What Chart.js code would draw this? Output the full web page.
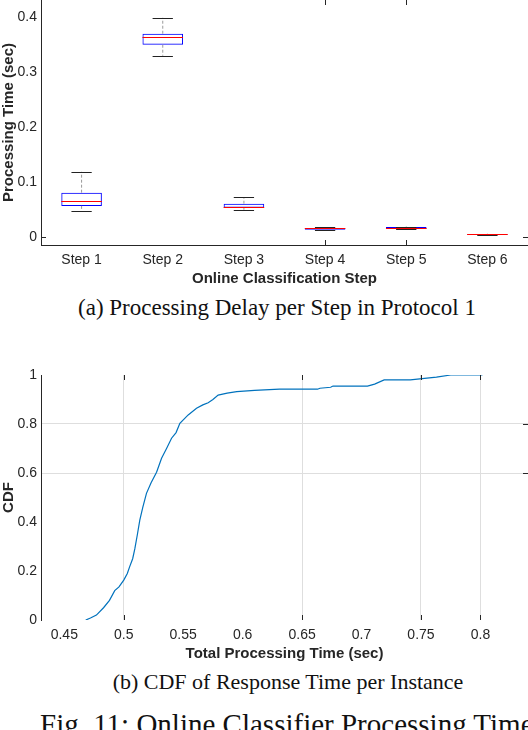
<!DOCTYPE html>
<html>
<head>
<meta charset="utf-8">
<script src="https://cdn.jsdelivr.net/npm/chart.js@4.4.1/dist/chart.umd.min.js"></script>
<style>
  html, body { margin: 0; padding: 0; background: #fff; }
  body { width: 528px; height: 730px; position: relative; overflow: hidden; }
  canvas { position: absolute; left: 0; }
  .cap { position: absolute; font-family: "Liberation Serif", "Times New Roman", serif; color: #111; white-space: nowrap; text-align: center; }
</style>
</head>
<body>
<canvas id="boxChart" width="528" height="306" style="top:-20px;width:528px;height:306px"></canvas>
<div class="cap" style="left:-23px;width:600px;top:296px;font-size:23px;line-height:23px">(a) Processing Delay per Step in Protocol 1</div>
<canvas id="cdfChart" width="528" height="306" style="top:355px;width:528px;height:306px"></canvas>
<div class="cap" style="left:-12px;width:600px;top:671px;font-size:22px;line-height:22px">(b) CDF of Response Time per Instance</div>
<div class="cap" style="left:40px;top:710px;font-size:29px;line-height:29px;text-align:left">Fig. 11: Online Classifier Processing Time</div>

<script>
// box plot values per step (sec)
const steps = ['Step 1', 'Step 2', 'Step 3', 'Step 4', 'Step 5', 'Step 6'];
const boxLow = [0.047, 0.329, 0.049, 0.0120, 0.0135, 0.0030];
const boxQ1 = [0.056, 0.349, 0.0525, 0.0127, 0.0140, 0.0035];
const boxMedian = [0.064, 0.3636, 0.0533, 0.0151, 0.0158, 0.0042];
const boxQ3 = [0.080, 0.369, 0.060, 0.0155, 0.0175, 0.0050];
const boxHigh = [0.118, 0.398, 0.0715, 0.0170, 0.0185, 0.0055];
const boxYTicks = [0, 0.1, 0.2, 0.3, 0.4];

// CDF of total processing time
const cdfTime = [0.468, 0.472, 0.477, 0.483, 0.488, 0.4924, 0.496, 0.500, 0.503, 0.505,
  0.5075, 0.5093, 0.5115, 0.5135, 0.516, 0.5191, 0.523, 0.5276, 0.5318, 0.536,
  0.5402, 0.544, 0.5472, 0.5542, 0.5612, 0.5665, 0.571, 0.575, 0.5794, 0.587,
  0.595, 0.610, 0.631, 0.663, 0.665, 0.674, 0.676, 0.705, 0.711, 0.719,
  0.741, 0.763, 0.775, 0.8017];
const cdfValue = [0, 0.008, 0.02, 0.05, 0.08, 0.12, 0.135, 0.163, 0.19, 0.218,
  0.25, 0.29, 0.35, 0.408, 0.46, 0.517, 0.56, 0.603, 0.66, 0.70,
  0.742, 0.765, 0.803, 0.837, 0.864, 0.878, 0.887, 0.90, 0.918, 0.926,
  0.932, 0.937, 0.942, 0.942, 0.946, 0.950, 0.955, 0.955, 0.963, 0.980,
  0.980, 0.991, 1.0, 1.0];
const cdfXTicks = [0.45, 0.5, 0.55, 0.6, 0.65, 0.7, 0.75, 0.8];
const cdfYTicks = [0, 0.2, 0.4, 0.6, 0.8, 1];

const axisColor = '#262626';
const tickFont = { family: 'Liberation Sans', size: 14 };
const titleFont = { family: 'Liberation Sans', size: 15, weight: 'bold' };

// small inward ticks like matlab draws them
const innerTicks = {
  id: 'innerTicks',
  afterDraw(chart, args, opts) {
    const { ctx, chartArea: a, scales: { x, y } } = chart;
    const len = 5;
    ctx.save();
    ctx.strokeStyle = axisColor;
    ctx.lineWidth = 1;
    ctx.beginPath();
    (opts.bottom || []).forEach(v => { const p = Math.round(x.getPixelForValue(v)) + 0.5; ctx.moveTo(p, a.bottom); ctx.lineTo(p, a.bottom - len); });
    (opts.top || []).forEach(v => { const p = Math.round(x.getPixelForValue(v)) + 0.5; ctx.moveTo(p, a.top); ctx.lineTo(p, a.top + len); });
    (opts.left || []).forEach(v => { const p = Math.round(y.getPixelForValue(v)) + 0.5; ctx.moveTo(a.left, p); ctx.lineTo(a.left + len, p); });
    (opts.right || []).forEach(v => { const p = Math.round(y.getPixelForValue(v)) + 0.5; ctx.moveTo(a.right, p); ctx.lineTo(a.right - len, p); });
    ctx.stroke();
    ctx.restore();
  }
};

// whiskers, caps and medians on top of the floating bars
const boxParts = {
  id: 'boxParts',
  afterDatasetsDraw(chart) {
    const { ctx, scales: { x, y } } = chart;
    const bars = chart.getDatasetMeta(0).data;
    ctx.save();
    ctx.lineWidth = 1;
    steps.forEach((s, i) => {
      const cx = x.getPixelForValue(i);
      const half = bars[i].width / 2;
      const capHalf = half / 2;
      ctx.strokeStyle = '#9a9a9a';
      ctx.setLineDash([3, 2]);
      ctx.beginPath();
      ctx.moveTo(cx, y.getPixelForValue(boxQ3[i]));
      ctx.lineTo(cx, y.getPixelForValue(boxHigh[i]));
      ctx.moveTo(cx, y.getPixelForValue(boxQ1[i]));
      ctx.lineTo(cx, y.getPixelForValue(boxLow[i]));
      ctx.stroke();
      ctx.setLineDash([]);
      ctx.strokeStyle = '#222';
      ctx.beginPath();
      [boxHigh[i], boxLow[i]].forEach(v => {
        const py = Math.round(y.getPixelForValue(v)) + 0.5;
        ctx.moveTo(cx - capHalf, py);
        ctx.lineTo(cx + capHalf, py);
      });
      ctx.stroke();
      ctx.strokeStyle = '#ff0000';
      ctx.beginPath();
      const my = Math.round(y.getPixelForValue(boxMedian[i])) + 0.5;
      ctx.moveTo(cx - half, my);
      ctx.lineTo(cx + half, my);
      ctx.stroke();
    });
    ctx.restore();
  }
};

new Chart(document.getElementById('boxChart').getContext('2d'), {
  type: 'bar',
  data: {
    labels: steps,
    datasets: [{
      data: steps.map((s, i) => [boxQ1[i], boxQ3[i]]),
      backgroundColor: 'rgba(0,0,0,0)',
      borderColor: '#0000ff',
      borderWidth: 1,
      borderSkipped: false,
      barPercentage: 0.5,
      categoryPercentage: 1.0
    }]
  },
  options: {
    responsive: false,
    animation: false,
    layout: { padding: { top: 20, right: 0, bottom: 0, left: 0 } },
    plugins: {
      legend: { display: false },
      tooltip: { enabled: false },
      innerTicks: { bottom: [3, 4], top: [3, 4], left: [0], right: [0] }
    },
    scales: {
      x: {
        offset: true,
        grid: { display: false, drawTicks: false },
        border: { color: axisColor },
        ticks: { font: tickFont, color: axisColor, padding: 7 },
        title: { display: true, text: 'Online Classification Step', font: titleFont, color: axisColor, padding: { top: 0, bottom: -2 } },
        afterFit: s => { s.height = 41; }
      },
      y: {
        min: -0.0151,
        max: 0.4303,
        grid: { display: false, drawTicks: false },
        border: { color: axisColor },
        afterBuildTicks: s => { s.ticks = boxYTicks.map(v => ({ value: v })); },
        ticks: { font: tickFont, color: axisColor, padding: 4, callback: v => String(+v.toFixed(2)) },
        title: { display: true, text: 'Processing Time (sec)', font: titleFont, color: axisColor, padding: 0 },
        afterFit: s => { s.width = 41; }
      }
    }
  },
  plugins: [boxParts, innerTicks]
});

const gridX = [0.5, 0.65, 0.75, 0.8];
const gridY = [0.6, 0.8];
const onList = (list, v) => list.some(g => Math.abs(g - v) < 1e-6);

new Chart(document.getElementById('cdfChart').getContext('2d'), {
  type: 'line',
  data: {
    datasets: [{
      data: cdfTime.map((t, i) => ({ x: t, y: cdfValue[i] })),
      borderColor: '#0072BD',
      borderWidth: 1.2,
      pointRadius: 0,
      tension: 0,
      fill: false
    }]
  },
  options: {
    responsive: false,
    animation: false,
    layout: { padding: { top: 20, right: 0, bottom: 0, left: 0 } },
    plugins: {
      legend: { display: false },
      tooltip: { enabled: false },
      innerTicks: { bottom: gridX, top: gridX, right: gridY }
    },
    scales: {
      x: {
        type: 'linear',
        min: 0.4304,
        max: 0.840,
        grid: { drawTicks: false, color: c => onList(gridX, c.tick.value) ? '#dedede' : 'rgba(0,0,0,0)' },
        border: { display: false },
        afterBuildTicks: s => { s.ticks = cdfXTicks.map(v => ({ value: v })); },
        ticks: { font: tickFont, color: axisColor, padding: 7, callback: v => String(+v.toFixed(2)) },
        title: { display: true, text: 'Total Processing Time (sec)', font: titleFont, color: axisColor, padding: { top: 0, bottom: -2 } },
        afterFit: s => { s.height = 41; }
      },
      y: {
        min: 0,
        max: 1,
        grid: { drawTicks: false, color: c => onList(gridY, c.tick.value) ? '#dedede' : 'rgba(0,0,0,0)' },
        border: { color: axisColor },
        afterBuildTicks: s => { s.ticks = cdfYTicks.map(v => ({ value: v })); },
        ticks: { font: tickFont, color: axisColor, padding: 4, callback: v => String(+v.toFixed(2)) },
        title: { display: true, text: 'CDF', font: titleFont, color: axisColor, padding: 0 },
        afterFit: s => { s.width = 41; }
      }
    }
  },
  plugins: [innerTicks]
});
</script>
</body>
</html>
